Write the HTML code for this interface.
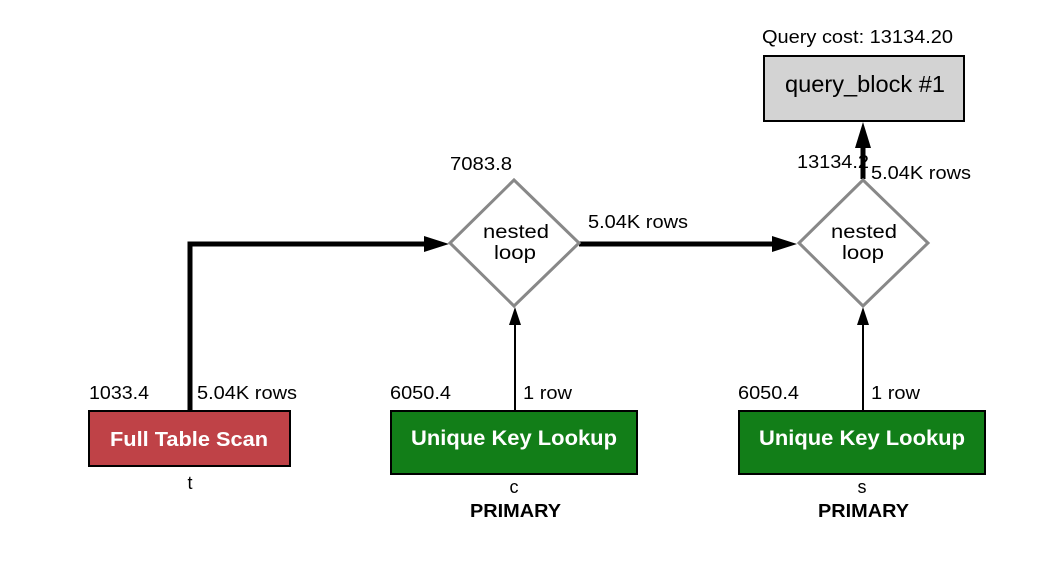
<!DOCTYPE html>
<html><head><meta charset="utf-8"><style>
html,body{margin:0;padding:0;background:#fff;width:1042px;height:570px;overflow:hidden}
text{font-family:"Liberation Sans",Arial,sans-serif}
</style></head><body>
<svg width="1042" height="570" viewBox="0 0 1042 570" xmlns="http://www.w3.org/2000/svg">
<text x="762" y="43" font-size="18" textLength="191" lengthAdjust="spacingAndGlyphs">Query cost: 13134.20</text>
<rect x="764" y="56" width="200" height="65" fill="#d3d3d3" stroke="#000" stroke-width="2"/>
<text x="785" y="92" font-size="23" textLength="160" lengthAdjust="spacingAndGlyphs">query_block #1</text>

<polyline points="190,411 190,244 428,244" fill="none" stroke="#000" stroke-width="5"/>
<polygon points="424,236 449,244 424,252" fill="#000"/>
<line x1="579" y1="244" x2="776" y2="244" stroke="#000" stroke-width="5"/>
<polygon points="772,236 797,244 772,252" fill="#000"/>
<line x1="863" y1="179" x2="863" y2="145" stroke="#000" stroke-width="5"/>
<polygon points="855,148 863,122 871,148" fill="#000"/>

<line x1="515" y1="411" x2="515" y2="325" stroke="#000" stroke-width="2"/>
<polygon points="509,325 515,307 521,325" fill="#000"/>
<line x1="863" y1="411" x2="863" y2="325" stroke="#000" stroke-width="2"/>
<polygon points="857,325 863,307 869,325" fill="#000"/>

<polygon points="514,180 579,243 514,306 450,243" fill="#fff" stroke="#888" stroke-width="3"/>
<text x="483" y="238" font-size="19" textLength="66" lengthAdjust="spacingAndGlyphs">nested</text>
<text x="494" y="259" font-size="19" textLength="42" lengthAdjust="spacingAndGlyphs">loop</text>
<polygon points="863,180 928,243 863,306 799,243" fill="#fff" stroke="#888" stroke-width="3"/>
<text x="831" y="238" font-size="19" textLength="66" lengthAdjust="spacingAndGlyphs">nested</text>
<text x="842" y="259" font-size="19" textLength="42" lengthAdjust="spacingAndGlyphs">loop</text>

<text x="450" y="170" font-size="18" textLength="62" lengthAdjust="spacingAndGlyphs">7083.8</text>
<text x="588" y="228" font-size="18" textLength="100" lengthAdjust="spacingAndGlyphs">5.04K rows</text>
<text x="797" y="168" font-size="18" textLength="72" lengthAdjust="spacingAndGlyphs">13134.2</text>
<text x="871" y="179" font-size="18" textLength="100" lengthAdjust="spacingAndGlyphs">5.04K rows</text>

<text x="89" y="399" font-size="18" textLength="60" lengthAdjust="spacingAndGlyphs">1033.4</text>
<text x="197" y="399" font-size="18" textLength="100" lengthAdjust="spacingAndGlyphs">5.04K rows</text>
<rect x="89" y="411" width="201" height="55" fill="#bf4247" stroke="#000" stroke-width="2"/>
<text x="110" y="446" font-size="20" font-weight="bold" fill="#fff" textLength="158" lengthAdjust="spacingAndGlyphs">Full Table Scan</text>
<text x="190" y="489" font-size="18" text-anchor="middle">t</text>

<text x="390" y="399" font-size="18" textLength="61" lengthAdjust="spacingAndGlyphs">6050.4</text>
<text x="523" y="399" font-size="18" textLength="49" lengthAdjust="spacingAndGlyphs">1 row</text>
<rect x="391" y="411" width="246" height="63" fill="#127e18" stroke="#000" stroke-width="2"/>
<text x="411" y="445" font-size="21" font-weight="bold" fill="#fff" textLength="206" lengthAdjust="spacingAndGlyphs">Unique Key Lookup</text>
<text x="514" y="493" font-size="18" text-anchor="middle">c</text>
<text x="470" y="517" font-size="18" font-weight="bold" textLength="91" lengthAdjust="spacingAndGlyphs">PRIMARY</text>

<text x="738" y="399" font-size="18" textLength="61" lengthAdjust="spacingAndGlyphs">6050.4</text>
<text x="871" y="399" font-size="18" textLength="49" lengthAdjust="spacingAndGlyphs">1 row</text>
<rect x="739" y="411" width="246" height="63" fill="#127e18" stroke="#000" stroke-width="2"/>
<text x="759" y="445" font-size="21" font-weight="bold" fill="#fff" textLength="206" lengthAdjust="spacingAndGlyphs">Unique Key Lookup</text>
<text x="862" y="493" font-size="18" text-anchor="middle">s</text>
<text x="818" y="517" font-size="18" font-weight="bold" textLength="91" lengthAdjust="spacingAndGlyphs">PRIMARY</text>
</svg>
</body></html>
